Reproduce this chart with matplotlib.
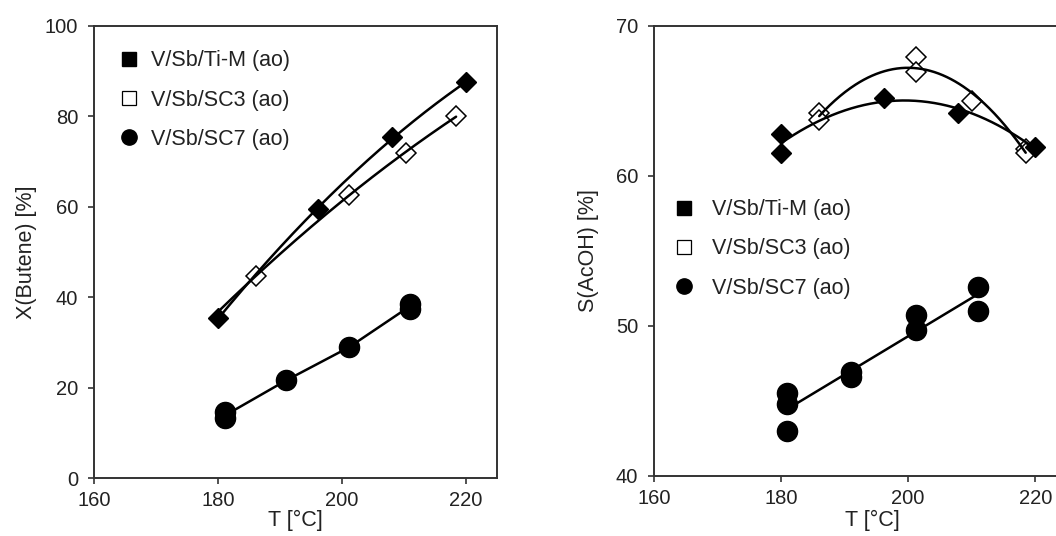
import numpy as np
import matplotlib
matplotlib.use("Agg")
import matplotlib.pyplot as plt
from matplotlib.lines import Line2D

plt.rcParams['font.family'] = ['Liberation Sans', 'DejaVu Sans']

# ---------------- data ----------------
series_names = ["V/Sb/Ti-M (ao)", "V/Sb/SC3 (ao)", "V/Sb/SC7 (ao)"]

# Left panel: conversion of butene
conv_tim_T = [180.0, 196.2, 208.1, 220.0]
conv_tim_X = [35.3, 59.6, 75.4, 87.5]
conv_sc3_T = [186.2, 201.1, 210.3, 218.4]
conv_sc3_X = [44.8, 62.6, 72.0, 80.0]
conv_sc7_T = [181.2, 181.2, 191.0, 201.1, 210.9, 210.9]
conv_sc7_X = [14.5, 13.3, 21.6, 28.9, 38.6, 37.3]

# Right panel: selectivity to acetic acid
sel_tim_T = [180.0, 180.0, 196.2, 207.9, 220.0]
sel_tim_S = [62.8, 61.5, 65.2, 64.2, 61.9]
sel_sc3_T = [186.0, 186.0, 201.2, 201.2, 210.0, 218.5, 218.5]
sel_sc3_S = [64.2, 63.7, 67.9, 66.9, 65.0, 61.8, 61.5]
sel_sc7_T = [181.0, 181.0, 181.0, 191.0, 191.0, 201.2, 201.2, 211.0, 211.0]
sel_sc7_S = [45.5, 44.8, 43.0, 46.6, 46.9, 50.7, 49.7, 52.6, 51.0]

x_ticks = [160, 180, 200, 220]
left_yticks = [0, 20, 40, 60, 80, 100]
right_yticks = [40, 50, 60, 70]

# ---------------- style ----------------
TXT = "#222222"
SP = "#333333"
W, H = 1056, 536

fig = plt.figure(figsize=(W / 100, H / 100), dpi=100)
ax1 = fig.add_axes([94 / W, 1 - 478 / H, 403 / W, 452 / H])
ax2 = fig.add_axes([654 / W, 1 - 475.7 / H, 413 / W, 449.7 / H])

LW = 1.8

def fit_curve(ax, T, Y, deg, t0, t1):
    c = np.polyfit(T, Y, deg)
    tt = np.linspace(t0, t1, 200)
    ax.plot(tt, np.polyval(c, tt), color="black", lw=LW, zorder=3,
            solid_capstyle="round")

def mean_by_T(T, Y):
    T = np.asarray(T); Y = np.asarray(Y)
    u = np.unique(T)
    return u, np.array([Y[T == v].mean() for v in u])

filled_d = dict(marker="D", ms=10.5, mfc="black", mec="black", mew=1.0,
                ls="none", zorder=4)
open_d = dict(marker="D", ms=10.5, mfc="white", mec="black", mew=1.1,
              ls="none", zorder=2)
circ = dict(marker="o", ms=14.5, mfc="black", mec="black", mew=1.0,
            ls="none", zorder=4)

# ---- left panel ----
ax1.plot(conv_sc3_T, conv_sc3_X, **open_d)
fit_curve(ax1, conv_tim_T, conv_tim_X, 2, min(conv_tim_T), max(conv_tim_T))
fit_curve(ax1, conv_sc3_T, conv_sc3_X, 2, min(conv_tim_T), max(conv_sc3_T))
ax1.plot(conv_tim_T, conv_tim_X, **filled_d)
u, m = mean_by_T(conv_sc7_T, conv_sc7_X)
ax1.plot(u, m, color="black", lw=LW, zorder=3)
ax1.plot(conv_sc7_T, conv_sc7_X, **circ)

ax1.set_xlim(160, 225)
ax1.set_ylim(0, 100)
ax1.set_yticks(left_yticks)

# ---- right panel ----
ax2.plot(sel_sc3_T, sel_sc3_S, **open_d)
fit_curve(ax2, sel_tim_T, sel_tim_S, 2, min(sel_tim_T), max(sel_tim_T))
fit_curve(ax2, sel_sc3_T, sel_sc3_S, 2, min(sel_sc3_T), max(sel_sc3_T))
ax2.plot(sel_tim_T, sel_tim_S, **filled_d)
fit_curve(ax2, sel_sc7_T, sel_sc7_S, 1, min(sel_sc7_T), max(sel_sc7_T))
ax2.plot(sel_sc7_T, sel_sc7_S, **circ)

ax2.set_xlim(160, 225)
ax2.set_ylim(40, 70)
ax2.set_yticks(right_yticks)

for ax in (ax1, ax2):
    ax.set_xticks(x_ticks)
    for s in ax.spines.values():
        s.set_color(SP)
        s.set_linewidth(1.4)
    ax.tick_params(axis="both", which="both", direction="out", length=4.5,
                   width=1.2, color=SP, labelcolor=TXT, labelsize=14.5,
                   top=False, right=False)
    ax.tick_params(axis="y", pad=7)
    ax.tick_params(axis="x", pad=5)
    ax.set_xlabel("T [°C]", fontsize=15.5, color=TXT)

ax1.set_ylabel("X(Butene) [%]", fontsize=15.5, color=TXT)
ax2.set_ylabel("S(AcOH) [%]", fontsize=15.5, color=TXT)
ax1.yaxis.set_label_coords(-0.142, 0.5)
ax2.yaxis.set_label_coords(-0.134, 0.5)
ax1.xaxis.set_label_coords(0.5, -0.071)
ax2.xaxis.set_label_coords(0.528, -0.076)

handles = [
    Line2D([], [], marker="s", ms=10, mfc="black", mec="black", ls="none"),
    Line2D([], [], marker="s", ms=9.5, mfc="white", mec="black", mew=0.9, ls="none"),
    Line2D([], [], marker="o", ms=11, mfc="black", mec="black", ls="none"),
]

leg_kw = dict(frameon=False, fontsize=15.5, handlelength=1.0, borderpad=0,
              borderaxespad=0, labelspacing=0.85, loc="upper left",
              labelcolor=TXT)
ax1.legend(handles, series_names, bbox_to_anchor=(0.061, 0.946),
           handletextpad=0.5, **leg_kw)
ax2.legend(handles, series_names, bbox_to_anchor=(0.0475, 0.615),
           handletextpad=0.8, **leg_kw)

fig.savefig("out.png", dpi=100)
